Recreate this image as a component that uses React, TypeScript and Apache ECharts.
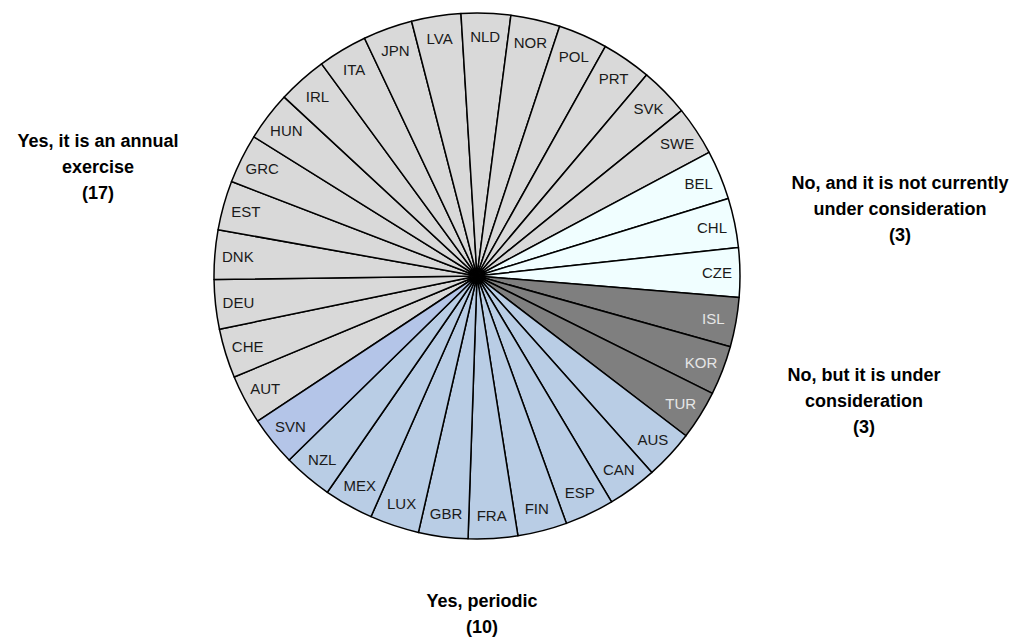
import React, { useEffect, useRef } from "react";
import * as echarts from "echarts";

const countries = [
  "AUT", "CHE", "DEU", "DNK", "EST", "GRC", "HUN", "IRL", "ITA", "JPN", "LVA",
  "NLD", "NOR", "POL", "PRT", "SVK", "SWE",
  "BEL", "CHL", "CZE",
  "ISL", "KOR", "TUR",
  "AUS", "CAN", "ESP", "FIN", "FRA", "GBR", "LUX", "MEX", "NZL", "SVN",
];
// 0 = annual, 1 = no & not considered, 2 = no but under consideration, 3 = periodic, 4 = periodic (SVN shade)
const groupOf = [
  0, 0, 0, 0, 0, 0, 0, 0, 0, 0, 0,
  0, 0, 0, 0, 0, 0,
  1, 1, 1,
  2, 2, 2,
  3, 3, 3, 3, 3, 3, 3, 3, 3, 4,
];
const values = countries.map(() => 1);

const groupColors = ["#D9D9D9", "#F0FEFF", "#7F7F7F", "#B9CDE5", "#B4C5E8"];
const labelColors = ["#1a1a1a", "#1a1a1a", "#E6E6E6", "#1a1a1a", "#1a1a1a"];

const groupLabels = [
  { lines: ["Yes, it is an annual", "exercise", "(17)"], x: 98, y: 141 },
  { lines: ["No, and it is not currently", "under consideration", "(3)"], x: 900, y: 183 },
  { lines: ["No, but it is under", "consideration", "(3)"], x: 864, y: 375 },
  { lines: ["Yes, periodic", "(10)"], x: 482, y: 601 },
];

export default function App() {
  const ref = useRef<HTMLDivElement>(null);
  useEffect(() => {
    if (!ref.current) return;
    const chart = echarts.init(ref.current, undefined, { renderer: "svg" });
    const font = "'Liberation Sans', Arial, sans-serif";
    const data = countries.map((c, i) => ({
      name: c,
      value: values[i],
      itemStyle: { color: groupColors[groupOf[i]] },
      label: { color: labelColors[groupOf[i]] },
    }));
    const labelData = countries.map((c, i) => ({
      name: c,
      value: values[i],
      label: { color: labelColors[groupOf[i]] },
    }));
    chart.setOption({
      animation: false,
      backgroundColor: "#ffffff",
      series: [
        {
          type: "pie",
          center: [477, 276],
          radius: [0, 263],
          startAngle: 213.5,
          clockwise: true,
          silent: true,
          label: { show: false },
          labelLine: { show: false },
          itemStyle: { borderColor: "#000000", borderWidth: 1.5 },
          data,
        },
        {
          type: "pie",
          center: [477, 276],
          radius: [211, 263],
          startAngle: 213.5,
          clockwise: true,
          silent: true,
          itemStyle: { color: "rgba(0,0,0,0)", borderWidth: 0 },
          label: {
            show: true,
            position: "inside",
            rotate: 0,
            fontFamily: font,
            fontSize: 15,
            formatter: "{b}",
          },
          labelLine: { show: false },
          data: labelData,
        },
      ],
      graphic: groupLabels.map((g) => ({
        type: "text",
        x: g.x,
        y: g.y - 13,
        silent: true,
        style: {
          text: g.lines.join("\n"),
          fontFamily: font,
          fontWeight: "bold",
          fontSize: 18,
          lineHeight: 26,
          align: "center",
          verticalAlign: "top",
          fill: "#000000",
        },
      })),
    });
    return () => chart.dispose();
  }, []);
  return (
    <div
      ref={ref}
      style={{ position: "fixed", left: 0, top: 0, width: 1019, height: 639 }}
    />
  );
}
